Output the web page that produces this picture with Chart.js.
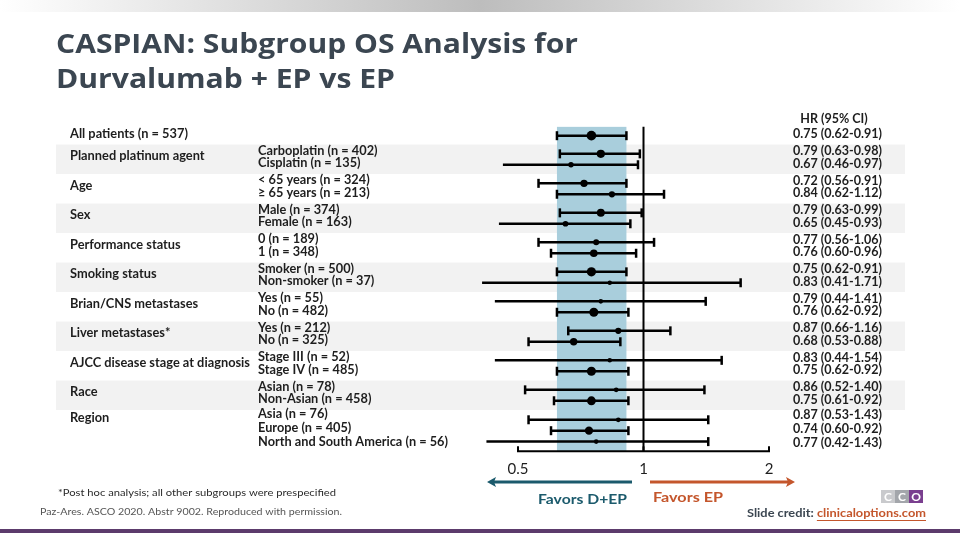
<!DOCTYPE html>
<html>
<head>
<meta charset="utf-8">
<script src="https://cdn.jsdelivr.net/npm/chart.js@4.4.1/dist/chart.umd.min.js"></script>
<style>
  html, body { margin: 0; padding: 0; background: #ffffff; }
  #wrap { width: 960px; height: 540px; position: relative; }
</style>
</head>
<body>
<div id="wrap"><canvas id="c" width="960" height="540"></canvas></div>
<script>
// ---------------- data ----------------
const titleLines = ['CASPIAN: Subgroup OS Analysis for', 'Durvalumab + EP vs EP'];
const groupLabels = ['All patients (n = 537)', 'Planned platinum agent', 'Age', 'Sex', 'Performance status',
  'Smoking status', 'Brian/CNS metastases', 'Liver metastases*', 'AJCC disease stage at diagnosis', 'Race', 'Region'];
const rowGroup = [0, 1, 1, 2, 2, 3, 3, 4, 4, 5, 5, 6, 6, 7, 7, 8, 8, 9, 9, 10, 10, 10];
const rowLabels = ['', 'Carboplatin (n = 402)', 'Cisplatin (n = 135)', '< 65 years (n = 324)', '\u2265 65 years (n = 213)',
  'Male (n = 374)', 'Female (n = 163)', '0 (n = 189)', '1 (n = 348)', 'Smoker (n = 500)', 'Non-smoker (n = 37)',
  'Yes (n = 55)', 'No (n = 482)', 'Yes (n = 212)', 'No (n = 325)', 'Stage III (n = 52)', 'Stage IV (n = 485)',
  'Asian (n = 78)', 'Non-Asian (n = 458)', 'Asia (n = 76)', 'Europe (n = 405)', 'North and South America (n = 56)'];
const rowN = [537, 402, 135, 324, 213, 374, 163, 189, 348, 500, 37, 55, 482, 212, 325, 52, 485, 78, 458, 76, 405, 56];
const hr = [0.75, 0.79, 0.67, 0.72, 0.84, 0.79, 0.65, 0.77, 0.76, 0.75, 0.83, 0.79, 0.76, 0.87, 0.68, 0.83, 0.75, 0.86, 0.75, 0.87, 0.74, 0.77];
const ciLow = [0.62, 0.63, 0.46, 0.56, 0.62, 0.63, 0.45, 0.56, 0.60, 0.62, 0.41, 0.44, 0.62, 0.66, 0.53, 0.44, 0.62, 0.52, 0.61, 0.53, 0.60, 0.42];
const ciHigh = [0.91, 0.98, 0.97, 0.91, 1.12, 0.99, 0.93, 1.06, 0.96, 0.91, 1.71, 1.41, 0.92, 1.16, 0.88, 1.54, 0.92, 1.40, 0.92, 1.43, 0.92, 1.43];
const xTicks = [0.5, 1, 2];
const hrHeader = 'HR (95% CI)';
const favorsLeft = 'Favors D+EP';
const favorsRight = 'Favors EP';
const footnote = '*Post hoc analysis; all other subgroups were prespecified';
const source = 'Paz-Ares. ASCO 2020. Abstr 9002. Reproduced with permission.';
const creditLabel = 'Slide credit: ';
const creditLink = 'clinicaloptions.com';

// ---------------- derived layout values (row positions) ----------------
const groupSize = {};
rowGroup.forEach(g => groupSize[g] = (groupSize[g] || 0) + 1);
const rowIdx = [];
const seen = {};
rowGroup.forEach((g, i) => { rowIdx[i] = seen[g] || 0; seen[g] = rowIdx[i] + 1; });
const groupShift = g => (groupSize[g] !== 2 ? 0.2 : 0);
const rowY = rowGroup.map((g, i) => {
  const k = groupSize[g];
  return g + (rowIdx[i] - (k - 1) / 2) * 0.37 + groupShift(g);
});
const hrText = hr.map((v, i) => v.toFixed(2) + ' (' + ciLow[i].toFixed(2) + '-' + ciHigh[i].toFixed(2) + ')');

// ---------------- colours ----------------
const C = {
  title: '#3b4651', text: '#1e1e1e', stripe: '#f2f2f2', band: '#a9cedc',
  teal: '#1b5a6c', orange: '#c4562c', purple: '#5c3b6c'
};

function drawText(ctx, s, x, y, font, color, align, sx) {
  ctx.save();
  ctx.font = font;
  ctx.fillStyle = color;
  ctx.textBaseline = 'middle';
  ctx.textAlign = align || 'left';
  ctx.translate(x, y);
  ctx.scale(sx || 1, 1);
  ctx.fillText(s, 0, 0);
  ctx.restore();
}
function fitScale(ctx, font, s, target) {
  ctx.save(); ctx.font = font; const w = ctx.measureText(s).width; ctx.restore();
  return target / w;
}
function arrow(ctx, x1, x2, y, color) {
  const dir = Math.sign(x2 - x1);
  ctx.save();
  ctx.strokeStyle = color; ctx.fillStyle = color; ctx.lineWidth = 3;
  ctx.beginPath(); ctx.moveTo(x1, y); ctx.lineTo(x2 - dir * 6, y); ctx.stroke();
  ctx.beginPath(); ctx.moveTo(x2, y); ctx.lineTo(x2 - dir * 9, y - 5); ctx.lineTo(x2 - dir * 7, y); ctx.lineTo(x2 - dir * 9, y + 5); ctx.closePath(); ctx.fill();
  ctx.restore();
}
// y pixel of the text line for row i (text lines are spaced a little wider than the markers)
function textY(ys, i) {
  const g = rowGroup[i], k = groupSize[g];
  const spacing = k === 3 ? 14 : 12.5;
  return ys.getPixelForValue(g + groupShift(g)) + (rowIdx[i] - (k - 1) / 2) * spacing - 2.5;
}

const deco = {
  id: 'deco',
  beforeDraw(chart) {
    const ctx = chart.ctx, ys = chart.scales.y;
    ctx.save();
    ctx.fillStyle = '#ffffff'; ctx.fillRect(0, 0, 960, 540);
    const gr = ctx.createLinearGradient(0, 0, 960, 0);
    gr.addColorStop(0, '#ffffff'); gr.addColorStop(0.5, '#bdbdbd'); gr.addColorStop(1, '#ffffff');
    ctx.fillStyle = gr; ctx.fillRect(0, 0, 960, 12);
    // stripes for odd groups
    ctx.fillStyle = C.stripe;
    for (let g = 1; g < groupLabels.length; g += 2) {
      const t = ys.getPixelForValue(g - 0.5), b = ys.getPixelForValue(g + 0.5);
      ctx.fillRect(56, t, 905 - 56, b - t);
    }
    // bottom purple rule
    ctx.fillStyle = C.purple; ctx.fillRect(0, 529, 960, 4);
    ctx.restore();
  },
  beforeDatasetsDraw(chart) {
    const ctx = chart.ctx, xs = chart.scales.x, a = chart.chartArea;
    ctx.save();
    // overall CI band
    const bl = xs.getPixelForValue(ciLow[0]), br = xs.getPixelForValue(ciHigh[0]);
    ctx.fillStyle = C.band; ctx.fillRect(bl, a.top, br - bl, a.bottom - a.top);
    // reference line at HR = 1
    const x1 = xs.getPixelForValue(1);
    ctx.strokeStyle = '#000'; ctx.lineWidth = 2;
    ctx.beginPath(); ctx.moveTo(x1, a.top); ctx.lineTo(x1, a.bottom); ctx.stroke();
    // axis
    ctx.beginPath(); ctx.moveTo(xs.getPixelForValue(xTicks[0]) - 1, a.bottom); ctx.lineTo(xs.getPixelForValue(xTicks[xTicks.length - 1]) + 1, a.bottom); ctx.stroke();
    xTicks.forEach(t => {
      const px = xs.getPixelForValue(t);
      ctx.beginPath(); ctx.moveTo(px, a.bottom); ctx.lineTo(px, a.bottom - 5); ctx.stroke();
      drawText(ctx, String(t), px, a.bottom + 18, '15px Lato', '#1e1e1e', 'center');
    });
    ctx.restore();
  },
  afterDraw(chart) {
    const ctx = chart.ctx, ys = chart.scales.y;
    // title
    const tf = 'bold 26px "Open Sans"';
    ctx.save();
    ctx.font = tf; ctx.fillStyle = C.title; ctx.textBaseline = 'alphabetic';
    const s1 = 522 / ctx.measureText(titleLines[0]).width;
    const s2 = 339 / ctx.measureText(titleLines[1]).width;
    ctx.save(); ctx.translate(56, 53); ctx.scale(s1, 1); ctx.fillText(titleLines[0], 0, 0); ctx.restore();
    ctx.save(); ctx.translate(56, 88); ctx.scale(s2, 1); ctx.fillText(titleLines[1], 0, 0); ctx.restore();
    ctx.restore();

    // group labels
    const gf = 'bold 13px Lato';
    const gs = fitScale(ctx, gf, groupLabels[8], 180);
    groupLabels.forEach((lab, g) => {
      const first = rowGroup.indexOf(g);
      const y = groupSize[g] === 2 ? ys.getPixelForValue(g) - 3 : ys.getPixelForValue(rowY[first]) - 2;
      drawText(ctx, lab, 70, y, gf, C.text, 'left', gs);
    });
    // subgroup labels
    const sf = 'bold 13px Lato';
    const ss = fitScale(ctx, sf, rowLabels[21], 190);
    rowLabels.forEach((lab, i) => {
      if (!lab) return;
      drawText(ctx, lab, 258, textY(ys, i), sf, C.text, 'left', ss);
    });
    // HR column
    const hf = 'bold 13px Lato';
    const hs = fitScale(ctx, hf, hrText[0], 89);
    drawText(ctx, hrHeader, 834, 119, hf, C.text, 'center', hs);
    hrText.forEach((t, i) => {
      const y = i === 0 ? ys.getPixelForValue(rowY[0]) - 2 : textY(ys, i) + 0.5;
      drawText(ctx, t, 793, y, hf, C.text, 'left', hs);
    });

    // favour arrows
    arrow(ctx, 632, 487, 482, C.teal);
    arrow(ctx, 650, 795, 482, C.orange);
    const ff = 'bold 14px Lato';
    drawText(ctx, favorsLeft, 538, 499, ff, C.teal, 'left', fitScale(ctx, ff, favorsLeft, 89));
    drawText(ctx, favorsRight, 653, 497, ff, C.orange, 'left', fitScale(ctx, ff, favorsRight, 70));

    // footnotes
    const nf = '10px Lato';
    drawText(ctx, footnote, 58, 493, nf, '#2a2a2a', 'left', fitScale(ctx, nf, footnote, 278));
    drawText(ctx, source, 40, 512, nf, '#555555', 'left', fitScale(ctx, nf, source, 302));

    // logo
    const logo = [['#c9cacd', 'C'], ['#a3a6ab', 'C'], ['#7a3f8f', 'O']];
    logo.forEach((l, i) => {
      ctx.fillStyle = l[0]; ctx.fillRect(881 + i * 14, 490, 14, 13);
      drawText(ctx, l[1], 888 + i * 14, 497, 'bold 12px Lato', '#ffffff', 'center');
    });
    // slide credit
    const cf = 'bold 12px Lato';
    ctx.save(); ctx.font = cf;
    const wl = ctx.measureText(creditLabel).width, wk = ctx.measureText(creditLink).width;
    ctx.restore();
    const cs = (926 - 747) / (wl + wk);
    drawText(ctx, creditLabel, 747, 513, cf, C.title, 'left', cs);
    drawText(ctx, creditLink, 747 + wl * cs, 513, cf, C.orange, 'left', cs);
    ctx.save(); ctx.strokeStyle = C.orange; ctx.lineWidth = 1;
    ctx.beginPath(); ctx.moveTo(747 + wl * cs, 520.5); ctx.lineTo(926, 520.5); ctx.stroke(); ctx.restore();
  }
};

// ---------------- datasets ----------------
const pointDS = {
  label: 'HR',
  data: hr.map((v, i) => ({ x: v, y: rowY[i] })),
  pointRadius: rowN.map(n => 2 + n / 190),
  pointBackgroundColor: '#000', pointBorderWidth: 0, showLine: false, clip: false
};
const whiskerDS = hr.map((v, i) => ({
  label: 'CI ' + i,
  data: [{ x: ciLow[i], y: rowY[i] }, { x: ciHigh[i], y: rowY[i] }],
  showLine: true, borderColor: '#000', borderWidth: 2.5,
  pointStyle: 'line', pointRotation: 90, pointRadius: 4.5,
  pointBorderColor: '#000', pointBorderWidth: 2.5, clip: false
}));

new Chart(document.getElementById('c'), {
  type: 'scatter',
  data: { datasets: [pointDS, ...whiskerDS] },
  options: {
    responsive: false, animation: false, devicePixelRatio: 1, events: [],
    layout: { padding: { left: 518, right: 191, top: 126.85, bottom: 88.65 } },
    plugins: { legend: { display: false }, tooltip: { enabled: false } },
    scales: {
      x: { type: 'logarithmic', min: 0.5, max: 2, display: false },
      y: { type: 'linear', min: -0.1, max: 10.9, reverse: true, display: false }
    }
  },
  plugins: [deco]
});
</script>
</body>
</html>
